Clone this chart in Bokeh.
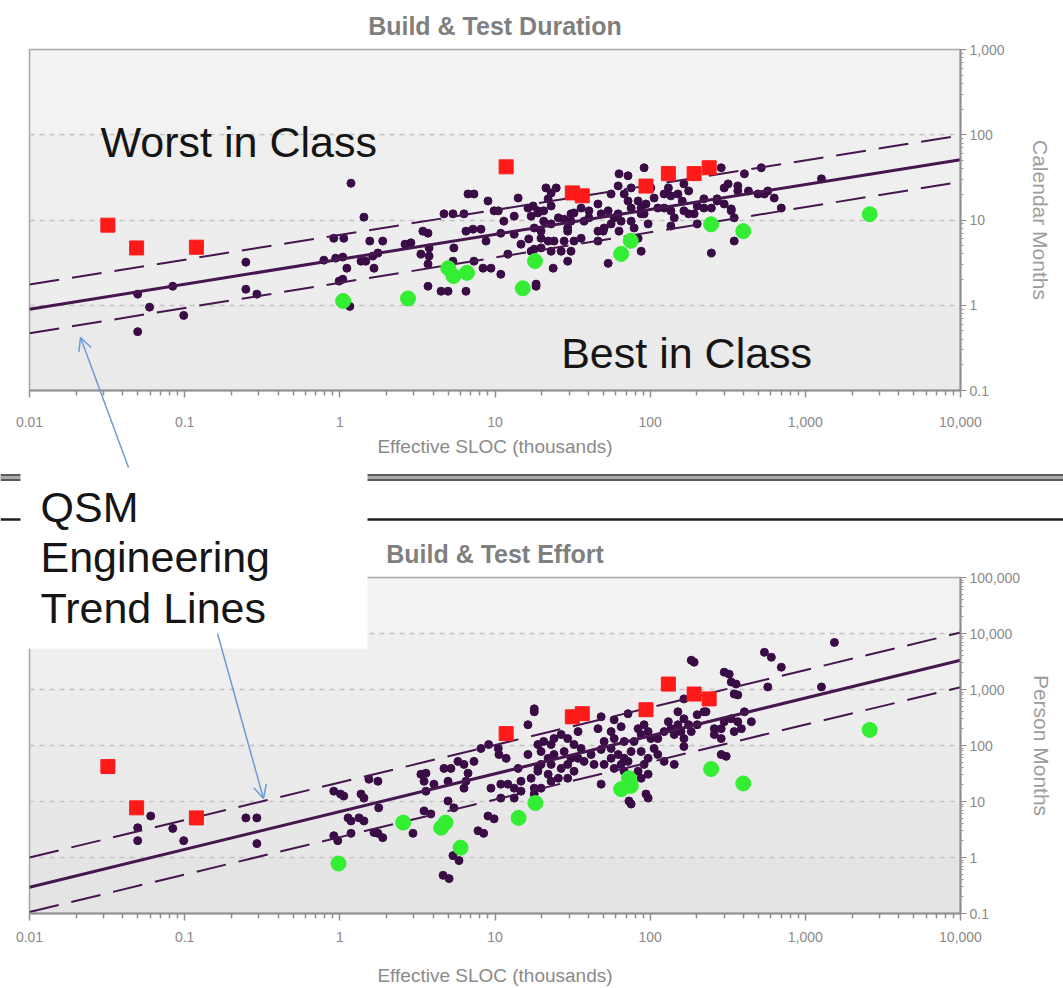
from bokeh.plotting import figure
from bokeh.layouts import column
from bokeh.models import (FixedTicker, NumeralTickFormatter, Label, Arrow, OpenHead,
                          BoxAnnotation, Span)
from bokeh.embed import file_html
from bokeh.resources import INLINE

# ---------------- data ----------------
x_ticks = [0.01, 0.1, 1, 10, 100, 1000, 10000]
duration_ticks = [0.1, 1, 10, 100, 1000]
effort_ticks = [0.1, 1, 10, 100, 1000, 10000, 100000]

trend_x = [0.01, 10000]
duration_trend = [0.9, 51]
duration_upper = [1.75, 98]
duration_lower = [0.47, 28]
effort_trend = [0.294, 3330]
effort_upper = [1.0, 10400]
effort_lower = [0.106, 1100]

red_x = [0.032, 0.049, 0.119, 11.8, 31.5, 36.5, 94, 131, 192, 240]
red_duration = [8.7, 4.7, 4.8, 42, 20.8, 19.2, 25, 35, 35, 41]
red_effort = [42, 7.7, 5.1, 163, 325, 370, 435, 1250, 830, 680]

green_duration_x = [1.05, 2.75, 5.0, 5.4, 6.6, 15.1, 18.1, 65, 75, 247, 398, 2600]
green_duration = [1.12, 1.2, 2.72, 2.2, 2.4, 1.58, 3.3, 4.0, 5.7, 8.9, 7.4, 11.7]
green_effort_x = [0.98, 2.56, 4.5, 4.8, 6.0, 14.2, 18.2, 65, 73, 75, 247, 398, 2600]
green_effort = [0.78, 4.2, 3.4, 4.2, 1.5, 5.1, 9.4, 16.6, 26, 19, 38, 21, 190]

duration_x = [
    0.248, 0.248, 0.292, 0.0498, 0.0594, 0.0498, 0.0986, 0.0838,
    1.18, 1.43, 0.914, 1.06, 1.56, 1.89, 1.76, 1.47, 1.66, 1.11, 1.045, 0.789, 1.045, 1.16, 0.99,
    2.87, 3.70, 3.76, 3.76, 3.70, 3.70, 4.98, 6.5, 5.36, 6.31, 7.32, 9.01, 7.21, 8.12, 5.43, 5.36,
    7.32, 9.42, 10.9, 10.5, 11.4, 13.3, 14.1, 16.3, 17.1, 10.9, 13.3, 16.5, 14.7, 17.1, 18.4, 12.1,
    8.75, 2.63, 3.43, 3.33, 4.49, 4.69, 6.70, 6.5, 8.37, 9.86, 1.37, 1.63, 0.94,
    21.3, 24.8, 22, 23, 20.6, 17.6, 18.9, 20.6, 17.9, 19.8, 23, 25.6, 27.9, 30.9, 32.3, 35.9, 37.5,
    40.3, 46.1, 48.3, 53.6, 58.6, 56, 50.5, 46.1, 62.2, 65, 72, 75.4, 83.6, 87.5, 91.4, 97, 75.4,
    78.8, 83.6, 87.5, 68, 63, 72, 62.2, 56, 91.4, 106, 112, 123, 136, 143, 123, 136, 151, 165, 177,
    165, 192, 201, 222, 248, 270, 300, 333, 348, 318, 367, 430, 495, 573, 630, 520, 287, 248, 348,
    201, 136, 53.6, 46.1, 32.3, 29.4, 35.9, 26.7, 24, 18.4, 23.7, 19.8, 30.9, 23, 29.4,
    700, 1270, 545,
    23, 18.9, 19.8, 22, 17.9, 30.9, 29.4, 27.9, 40.3, 49.8, 63, 75.4, 87.5, 94, 101, 131, 161, 177,
    222, 270, 300, 333, 405, 367,
]
duration_y = [
    3.2, 1.54, 1.35, 1.35, 0.95, 0.49, 0.76, 1.67,
    27, 10.8, 6.1, 6.1, 5.66, 5.66, 4.1, 3.29, 2.72, 2.72, 2.02, 3.38, 3.67, 0.97, 1.92,
    5.4, 7.0, 4.7, 3.77, 3.04, 1.67, 1.46, 1.46, 11.8, 11.8, 20.2, 16.7, 7.8, 7.8, 4.7, 3.29,
    3.29, 2.72, 2.31, 12.8, 9.7, 11.1, 18.1, 13.8, 11.1, 7.0, 6.8, 6.0, 5.2, 4.3, 1.67, 3.98,
    5.66, 5.2, 7.4, 3.98, 1.46, 11.8, 20.2, 7.4, 2.72, 12.8, 3.29, 3.77, 3.57,
    23.8, 23.8, 17.7, 14.6, 12.8, 14.6, 12.1, 9.7, 8.06, 6.1, 9.0, 10.6, 10.2, 9.7, 12.1, 13.8, 9.7,
    12.8, 15.4, 11.8, 12.8, 10.6, 9.0, 8.06, 7.4, 11.8, 9.7, 16.7, 13.8, 16.7, 13.8, 11.8, 9.0, 9.7,
    8.06, 6.1, 4.3, 20.2, 34.8, 33, 25.1, 20.2, 41, 18.1, 13.8, 13.8, 12.8, 10.6, 20.2, 19.2, 20.2, 26.5, 21.9,
    12.8, 11.8, 14.6, 17.7, 13.8, 17.7, 15.4, 12.8, 10.6, 26.5, 25.1, 21.9, 20.2, 21.9, 18.1, 41, 41, 4.1, 5.66,
    9.0, 8.5, 3.1, 5.66, 5.66, 7.4, 6.1, 4.3, 5.66, 1.77, 2.72, 4.7, 4.3, 4.3, 3.29,
    13.8, 30.4, 20.2,
    20.8, 12.8, 7.4, 5.66, 4.55, 11.8, 8.06, 5.66, 10.6, 7.4, 7.4, 23.8, 11.8, 15.4, 23.8, 23.8, 16.7, 11.8,
    13.8, 16.7, 23.8, 13.5, 34.8, 21.9,
]

effort_x = [
    0.0604, 0.0498, 0.0498, 0.0838, 0.0986, 0.248, 0.292, 0.292, 0.914, 1.13, 1.33, 0.914, 1.01, 1.37,
    1.76, 1.76, 3.33, 3.49, 3.49, 4.69, 4.98, 5.36, 4.63, 7.77, 9.01, 7.32, 9.1, 10.6, 1.06, 1.43, 1.18,
    1.43, 1.54, 1.18, 1.66, 1.89, 0.97, 1.78, 3.59, 4.04, 3.59, 3.86, 4.98, 5.43, 2.96, 5.2, 5.77, 6.31,
    6.70, 6.5, 6.31, 8.12, 10.5, 11.8, 16.3, 16.3, 17.9, 9.86, 8.45, 5.86, 5.06, 9.42, 10.9, 12.1, 13.3,
    14.7, 17.1, 18.9, 14.1, 10.9, 13.3, 14.7, 17.9,
    48.3, 58.6, 65, 56, 46.1, 50.5, 58.6, 68, 56, 48.3, 62.2, 68, 56, 50.5, 58.6, 65, 72, 75.4, 78.8,
    87.5, 83.6, 91.4, 97, 101, 87.5, 97, 91.4, 83.6, 87.5, 75.4, 68, 97, 106, 112, 123, 136, 143, 151,
    131, 151, 165, 177, 158, 165, 184, 201, 201, 222, 259, 287, 300, 333, 367, 405, 387, 348, 449, 259,
    287, 165, 309, 143, 123, 112, 43.5, 37.5, 41.6, 35.9, 32.3, 29.4, 26.7, 24, 23, 20.6, 18.9, 19.8, 22,
    24, 27.9, 30.9, 29.4, 26.7, 23, 19.8, 18.9, 22, 25.6, 29.4, 32.3, 34.3, 34.3, 19.8, 17.9, 23, 75.4,
    97, 165, 229, 48.3, 192, 323, 358, 348, 367, 573, 545, 604, 72, 1540, 1270, 700, 300, 333, 287, 94,
    73, 184, 17.9,
]
effort_y = [
    5.5, 3.4, 2.0, 3.3, 2.0, 5.1, 5.1, 1.77, 2.45, 5.1, 5.1, 15.3, 13.6, 13.6,
    2.7, 23, 30.7, 23, 6.8, 39, 23, 1.08, 0.48, 3.0, 5.5, 52, 104, 69, 12.5, 11.5, 4.5,
    4.5, 25, 2.7, 2.8, 2.26, 2.0, 7.7, 32, 20.4, 15.3, 6.0, 10.2, 7.7, 2.7, 39, 52, 46,
    32, 23, 17.3, 88.5, 88.5, 59, 69, 235, 400, 4.9, 2.7, 0.88, 0.42, 17.3, 20.4, 20.4, 17.3,
    23, 26, 39, 39, 11.5, 11.5, 15.3, 17.3,
    326, 288, 217, 177, 200, 118, 133, 118, 88.5, 85, 69, 59, 59, 46, 39, 46, 52, 78, 118,
    157, 200, 235, 177, 133, 78, 59, 46, 34.7, 26, 26, 34.7, 30.7, 88.5, 133, 177, 200, 157, 235,
    266, 400, 300, 235, 177, 133, 177, 235, 354, 400, 200, 200, 266, 300, 266, 400, 200, 177, 266, 157,
    133, 96, 64, 46, 52, 69, 46, 52, 69, 88.5, 104, 133, 157, 133, 104, 118, 104, 78, 59,
    69, 78, 59, 46, 39, 46, 46, 34.7, 30.7, 26, 26, 34.7, 177, 59, 17.3, 13.6, 23, 9.0,
    11.5, 679, 400, 20.4, 3070, 1880, 1250, 832, 800, 1110, 4610, 3760, 369, 6920, 1110, 2500, 2040, 1360, 69, 13.6,
    10.2, 3330, 452,
]

# ---------------- styles ----------------
PURPLE = "#3a0c46"
LINE_PURPLE = "#46164f"
RED = "#ff1a1a"
GREEN = "#33ee33"
GRAY_TXT = "#8a8a8a"
ARROW_BLUE = "#6d9bd0"
SANS = "Liberation Sans"
W = 1063
H1, H2 = 473, 515


def minor_of(ticks):
    return [m * t for t in ticks[:-1] for m in range(2, 10)]


def make_figure(height, top, bottom, y_range, y_ticks, ylabel, title, ylabel_standoff,
                xtick_standoff, xlabel_standoff):
    p = figure(width=W, height=height, x_axis_type="log", y_axis_type="log",
               x_range=(0.01, 10000), y_range=y_range, y_axis_location="right",
               output_backend="svg", toolbar_location=None, title=title,
               min_border_left=29, min_border_right=103,
               min_border_top=top, min_border_bottom=bottom)
    p.background_fill_color = "#f5f5f5"
    p.border_fill_color = "white"
    p.outline_line_color = "#a8a8a8"
    p.outline_line_width = 1.5

    # soft vertical shading of the plot area (darker toward the bottom)
    n = len(y_ticks) - 1
    for i, (lo, hi) in enumerate(zip(y_ticks[:-1], y_ticks[1:])):
        p.add_layout(BoxAnnotation(bottom=lo, top=hi, fill_color="black",
                                   fill_alpha=0.011 * (n - i), line_color=None, level="image"))

    p.title.align = "center"
    p.title.text_font = SANS
    p.title.text_font_size = "25px"
    p.title.text_font_style = "bold"
    p.title.text_color = "#7f7f7f"
    p.title.standoff = 19

    xa = p.xaxis[0]
    xa.ticker = FixedTicker(ticks=x_ticks, minor_ticks=minor_of(x_ticks))
    xa.formatter = NumeralTickFormatter(format="0,0.[00]")
    xa.axis_label = "Effective SLOC (thousands)"
    xa.axis_label_text_font = SANS
    xa.axis_label_text_font_size = "19px"
    xa.axis_label_text_font_style = "normal"
    xa.axis_label_text_color = GRAY_TXT
    xa.axis_label_standoff = xlabel_standoff
    xa.major_label_text_font = SANS
    xa.major_label_text_font_size = "14px"
    xa.major_label_text_color = GRAY_TXT
    xa.major_label_standoff = xtick_standoff
    xa.axis_line_color = "#8f8f8f"
    xa.axis_line_width = 2
    xa.major_tick_line_color = "#8f8f8f"
    xa.major_tick_line_width = 1.5
    xa.major_tick_in = 0
    xa.major_tick_out = 7
    xa.minor_tick_line_color = "#8f8f8f"
    xa.minor_tick_line_width = 1.5
    xa.minor_tick_in = 0
    xa.minor_tick_out = 5

    ya = p.yaxis[0]
    ya.ticker = FixedTicker(ticks=y_ticks, minor_ticks=minor_of(y_ticks))
    ya.formatter = NumeralTickFormatter(format="0,0.[00]")
    ya.axis_label = ylabel
    ya.axis_label_text_font = SANS
    ya.axis_label_text_font_size = "21px"
    ya.axis_label_text_font_style = "normal"
    ya.axis_label_text_color = "#9c9c9c"
    ya.axis_label_standoff = ylabel_standoff
    ya.major_label_text_font = SANS
    ya.major_label_text_font_size = "14px"
    ya.major_label_text_color = GRAY_TXT
    ya.major_label_standoff = 3
    ya.axis_line_color = "#8f8f8f"
    ya.axis_line_width = 2
    ya.major_tick_line_color = "#8f8f8f"
    ya.major_tick_in = 0
    ya.major_tick_out = 6
    ya.minor_tick_line_color = "#9a9a9a"
    ya.minor_tick_in = 0
    ya.minor_tick_out = 3

    p.xgrid.visible = False
    p.ygrid.ticker = FixedTicker(ticks=y_ticks)
    p.ygrid.grid_line_color = "#c2c2c2"
    p.ygrid.grid_line_dash = "5 5"
    p.ygrid.grid_line_width = 1.5
    return p


def draw_series(p, pts_x, pts_y, mid, upper, lower, rx, ry, gx, gy):
    p.scatter(pts_x, pts_y, marker="circle", size=8, fill_color=PURPLE, line_color=PURPLE)
    p.line(trend_x, mid, line_color=LINE_PURPLE, line_width=3)
    p.line(trend_x, upper, line_color=LINE_PURPLE, line_width=2, line_dash="30 13")
    p.line(trend_x, lower, line_color=LINE_PURPLE, line_width=2, line_dash="30 13")
    p.scatter(rx, ry, marker="square", size=14, fill_color=RED, line_color=RED)
    p.scatter(gx, gy, marker="circle", size=15, fill_color=GREEN, line_color=GREEN)


# ---------------- top chart: duration ----------------
p1 = make_figure(H1, 49, 83, (0.1, 1000), duration_ticks, "Calendar Months",
                 "Build & Test Duration", 21, 19, 6)
draw_series(p1, duration_x, duration_y, duration_trend, duration_upper, duration_lower,
            red_x, red_duration, green_duration_x, green_duration)
p1.add_layout(Label(x=0.0287, y=83.3, text="Worst in Class", text_font=SANS,
                    text_font_size="43px", text_color="#151515", text_baseline="alphabetic"))
p1.add_layout(Label(x=26.7, y=0.279, text="Best in Class", text_font=SANS,
                    text_font_size="43px", text_color="#151515", text_baseline="alphabetic"))

# ---------------- bottom chart: effort ----------------
p2 = make_figure(H2, 104, 75, (0.1, 100000), effort_ticks, "Person Months",
                 "Build & Test Effort", 7, 11, 20)
draw_series(p2, effort_x, effort_y, effort_trend, effort_upper, effort_lower,
            red_x, red_effort, green_effort_x, green_effort)

# ---------------- slide overlay (pixel space, y downward), separate root ----------------
H = H1 + H2
ov = figure(width=W, height=H, x_range=(0, W), y_range=(H, 0),
            x_axis_location=None, y_axis_location=None, toolbar_location=None,
            output_backend="svg", min_border=0,
            styles={"position": "absolute", "left": "0px", "top": "0px", "z-index": "10"})
ov.background_fill_color = None
ov.border_fill_color = None
ov.outline_line_color = None
ov.xgrid.visible = False
ov.ygrid.visible = False

ov.add_layout(Span(location=477, dimension="width", line_color="#5a5a5a", line_width=7))
ov.add_layout(Span(location=477, dimension="width", line_color="#ababab", line_width=3))
ov.add_layout(Span(location=519, dimension="width", line_color="#1e1e1e", line_width=2.5))
ov.add_layout(BoxAnnotation(left=20, right=367, top=462, bottom=648, fill_color="white",
                            fill_alpha=1.0, line_color=None))
for txt, base in [("QSM", 506), ("Engineering", 556), ("Trend Lines", 607)]:
    ov.add_layout(Label(x=40, y=base, text=txt, text_font=SANS, text_font_size="43px",
                        text_color="#151515", text_baseline="alphabetic"))
ov.add_layout(Arrow(x_start=128, y_start=467, x_end=80, y_end=337,
                    line_color=ARROW_BLUE, line_width=1.5,
                    end=OpenHead(size=13, line_color=ARROW_BLUE, line_width=1.5)))
ov.add_layout(Arrow(x_start=217, y_start=633, x_end=263, y_end=798,
                    line_color=ARROW_BLUE, line_width=1.5,
                    end=OpenHead(size=13, line_color=ARROW_BLUE, line_width=1.5)))

layout = column(p1, p2)
open("out.html", "w").write(file_html([layout, ov], INLINE))
